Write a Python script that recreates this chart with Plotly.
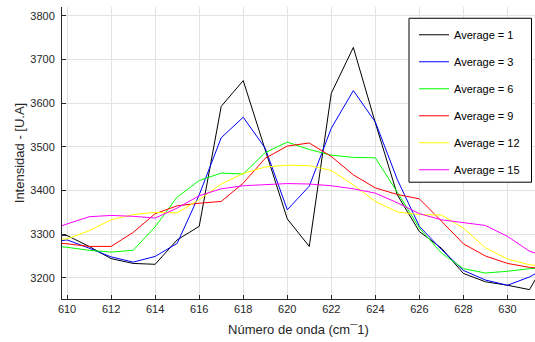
import plotly.graph_objects as go

wavenumber = list(range(609, 633))

avg_1 = [3300, 3297, 3272, 3244, 3233, 3231, 3287, 3318, 3593, 3652, 3493, 3335, 3272,
         3623, 3728, 3555, 3390, 3306, 3268, 3210, 3191, 3183, 3173, 3260]
avg_3 = [3280, 3287, 3268, 3248, 3236, 3249, 3279, 3390, 3521, 3568, 3497, 3356, 3410,
         3543, 3629, 3557, 3425, 3318, 3265, 3217, 3195, 3183, 3202, 3230]
avg_6 = [3275, 3270, 3263, 3259, 3263, 3317, 3385, 3423, 3440, 3438, 3487, 3511, 3494,
         3481, 3476, 3475, 3396, 3314, 3257, 3221, 3211, 3215, 3221, 3223]
avg_9 = [3282, 3278, 3272, 3272, 3304, 3347, 3365, 3371, 3375, 3417, 3474, 3502, 3509,
         3478, 3436, 3406, 3391, 3381, 3330, 3278, 3250, 3233, 3224, 3220]
avg_12 = [3289, 3289, 3308, 3333, 3345, 3350, 3349, 3379, 3415, 3439, 3454, 3458, 3457,
          3446, 3413, 3375, 3351, 3345, 3344, 3314, 3269, 3243, 3230, 3225]
avg_15 = [3307, 3324, 3340, 3343, 3341, 3337, 3360, 3388, 3404, 3411, 3414, 3416, 3415,
          3411, 3404, 3394, 3372, 3347, 3333, 3326, 3320, 3295, 3261, 3245]

series_names = ["Average = 1", "Average = 3", "Average = 6", "Average = 9",
                "Average = 12", "Average = 15"]
series_values = [avg_1, avg_3, avg_6, avg_9, avg_12, avg_15]
series_colors = ["#000000", "#0000ff", "#00ff00", "#ff0000", "#ffff00", "#ff00ff"]

x_ticks = list(range(610, 631, 2))
y_ticks = list(range(3200, 3801, 100))

fig = go.Figure()
for name, vals, col in zip(series_names, series_values, series_colors):
    fig.add_trace(go.Scatter(x=wavenumber, y=vals, mode="lines", name=name,
                             legendgroup=name,
                             line=dict(color=col, width=1)))

axis_col = "#262626"
grid_col = "#e2e2e2"
font_family = "Liberation Sans, Arial, sans-serif"

fig.update_layout(
    width=535, height=342,
    margin=dict(l=62, r=0, t=7, b=42.5),
    paper_bgcolor="white", plot_bgcolor="white",
    font=dict(family=font_family, size=11, color=axis_col),
    showlegend=True,
    legend=dict(x=(414 - 62) / 473, y=(299.5 - 20.3) / 292.5,
                xanchor="left", yanchor="top",
                bgcolor="rgba(0,0,0,0)", borderwidth=0,
                font=dict(size=11, color="#000000"),
                tracegroupgap=8, itemwidth=30),
    shapes=[dict(type="rect", xref="paper", yref="paper",
                 x0=(409 - 62) / 473, x1=(531.5 - 62) / 473,
                 y0=(299.5 - 182.5) / 292.5, y1=(299.5 - 18.3) / 292.5,
                 fillcolor="white", line=dict(color="#000000", width=1),
                 layer="above")],
)

fig.update_xaxes(range=[609.77, 631.25], tickvals=x_ticks, automargin=False,
                 ticks="inside", ticklen=4, tickcolor=axis_col,
                 showline=True, linecolor=axis_col, linewidth=1,
                 showgrid=True, gridcolor=grid_col, gridwidth=1,
                 zeroline=False, tickfont=dict(size=11, color=axis_col),
                 title=dict(text="Número de onda (cm¯1)", font=dict(size=13, color=axis_col),
                            standoff=10))
fig.update_yaxes(range=[3151.5, 3820.6], tickvals=y_ticks, automargin=False,
                 ticks="inside", ticklen=4, tickcolor=axis_col,
                 showline=True, linecolor=axis_col, linewidth=1,
                 showgrid=True, gridcolor=grid_col, gridwidth=1,
                 zeroline=False, tickfont=dict(size=11, color=axis_col),
                 ticklabelstandoff=4,
                 title=dict(text="Intensidad - [U.A]", font=dict(size=13, color=axis_col),
                            standoff=2))

fig.write_html("out.html", config={"displayModeBar": False},
               post_script="document.body.style.margin='0px';")
